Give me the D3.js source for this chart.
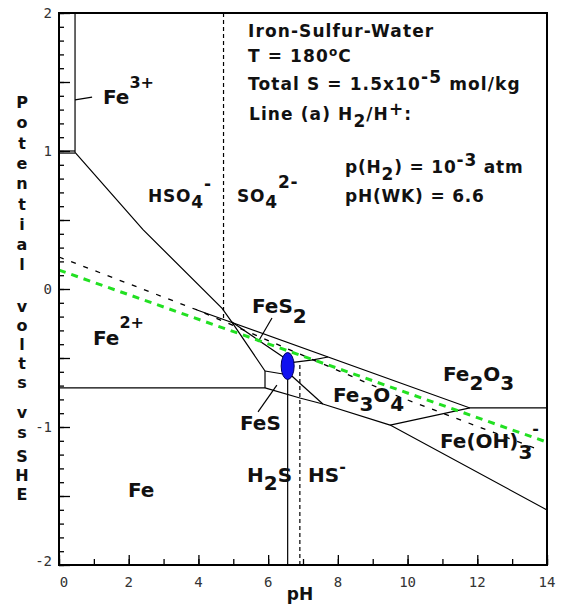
<!DOCTYPE html>
<html>
<head>
<meta charset="utf-8">
<script src="https://cdn.jsdelivr.net/npm/d3@7"></script>
<style>
  body { margin: 0; background: #fff; }
  svg { display: block; }
  .big { font-family: "DejaVu Sans", sans-serif; font-weight: bold; fill: #111; }
  .tick-lbl { font-family: "DejaVu Sans Mono", monospace; font-size: 14px; fill: #333; }
</style>
</head>
<body>
<svg id="chart" width="563" height="604"></svg>
<script>
// field boundaries, every point is [pH, E in volts]
var fe3Edge = [[0.46, 2.0], [0.46, 0.99]];
var fe3Floor = [[0, 1.0], [0.46, 1.0]];
var fe3Floor2 = [[0, 0.985], [0.46, 0.985]];
var fe2Top = [[0.46, 0.99], [2.41, 0.43], [4.68, -0.14], [4.96, -0.24], [5.91, -0.594]];
var fesLeft = [[5.91, -0.594], [5.91, -0.717]];
var fe2Floor = [[0, -0.717], [5.91, -0.717]];
var fe2o3Floor = [[3.96, -0.152], [11.79, -0.862], [14, -0.862]];
var pyriteBase = [[4.96, -0.24], [6.43, -0.493], [6.56, -0.52]];
var pyriteTip = [[6.6, -0.536], [7.29, -0.514], [7.72, -0.493]];
var fesTop = [[5.91, -0.594], [6.6, -0.623]];
var fesMagnetite = [[6.68, -0.63], [7.57, -0.833]];
var feFloor = [[5.91, -0.717], [6.91, -0.79], [7.57, -0.833], [9.5, -0.986], [14, -1.601]];
var magnetiteHydroxide = [[9.5, -0.986], [11.79, -0.862]];

// sulfur species and water lines
var sulfurDash = [[0, 0.232], [3.96, -0.152], [9.78, -0.783], [13.8, -1.167]];
var hso4So4 = [[4.72, 2], [4.72, -0.215]];
var h2sHs = [[6.91, -0.55], [6.91, -2]];
var h2Line = [[0, 0.137], [14, -1.11]];   // line (a) H2/H+
var wkLine = [[6.56, -0.56], [6.56, -2]];
var wkPoint = [6.56, -0.558];

// label leaders
var fe3Leader = [[0.46, 1.37], [0.95, 1.39]];
var fes2Leader = [[5.71, -0.384], [6.11, -0.21]];
var fesLeader = [[5.71, -0.891], [6.25, -0.696]];

var xTickLabels = [0, 2, 4, 6, 8, 10, 12, 14];
var yTickLabels = [2, 1, 0, -1, -2];
var yTitleWords = ["Potential", "volts", "vs", "SHE"];

const svg = d3.select('#chart');
const x = d3.scaleLinear().domain([0, 14]).range([59, 547]);
const y = d3.scaleLinear().domain([-2, 2]).range([565, 13]);
const line = d3.line().x(d => x(d[0])).y(d => y(d[1]));

const g = svg.append('g');

// solid boundaries
[fe3Edge, fe3Floor, fe3Floor2, fe2Top, fesLeft, fe2Floor, fe2o3Floor, pyriteBase, pyriteTip,
 fesTop, fesMagnetite, feFloor, magnetiteHydroxide, wkLine, fe3Leader, fes2Leader, fesLeader]
  .forEach(d => {
    g.append('path').attr('d', line(d)).attr('fill', 'none')
      .attr('stroke', '#000').attr('stroke-width', 1.2);
  });

// dashed lines
g.append('path').attr('d', line(sulfurDash)).attr('fill', 'none')
  .attr('stroke', '#000').attr('stroke-width', 1.3).attr('stroke-dasharray', '5,8');
[hso4So4, h2sHs].forEach(d => {
  g.append('path').attr('d', line(d)).attr('fill', 'none')
    .attr('stroke', '#000').attr('stroke-width', 1.2).attr('stroke-dasharray', '4,3');
});
g.append('path').attr('d', line(h2Line)).attr('fill', 'none')
  .attr('stroke', '#22e022').attr('stroke-width', 3).attr('stroke-dasharray', '7,6');

// working point
g.append('ellipse').attr('cx', x(wkPoint[0])).attr('cy', y(wkPoint[1]))
  .attr('rx', 6.5).attr('ry', 13.5)
  .attr('fill', '#1010f0').attr('stroke', '#000060').attr('stroke-width', 1);

// frame
svg.append('rect').attr('x', x(0)).attr('y', y(2))
  .attr('width', x(14) - x(0)).attr('height', y(-2) - y(2))
  .attr('fill', 'none').attr('stroke', '#000').attr('stroke-width', 2);

// ticks on left axis (inside)
function yTicks(vals, size) {
  svg.append('g').attr('transform', `translate(${x(0)},0)`)
    .call(d3.axisRight(y).tickValues(vals).tickSize(size).tickFormat(''))
    .call(a => a.select('.domain').remove())
    .call(a => a.selectAll('line').attr('stroke', '#000').attr('stroke-width', 1.3));
}
yTicks(d3.range(-20, 21).map(i => i / 10), 5);
yTicks(d3.range(-4, 5).map(i => i / 2), 11);

function xTicks(vals, size) {
  svg.append('g').attr('transform', `translate(0,${y(-2)})`)
    .call(d3.axisTop(x).tickValues(vals).tickSize(size).tickFormat(''))
    .call(a => a.select('.domain').remove())
    .call(a => a.selectAll('line').attr('stroke', '#000').attr('stroke-width', 1.3));
}
xTicks(d3.range(0, 15), 6);
xTicks(xTickLabels, 10);

// tick labels
svg.selectAll('.xlab').data(xTickLabels).join('text')
  .attr('class', 'tick-lbl')
  .attr('x', d => d === 0 ? x(d) + 5 : x(d))
  .attr('y', 587).attr('text-anchor', 'middle').text(d => d);
svg.selectAll('.ylab').data(yTickLabels).join('text')
  .attr('class', 'tick-lbl')
  .attr('x', 52).attr('y', d => d === -2 ? y(d) - 4 : y(d))
  .attr('dy', '0.35em').attr('text-anchor', 'end').text(d => d);

// axis titles
svg.append('text').attr('class', 'big').style('font-size', '17px')
  .attr('x', 300).attr('y', 600).attr('text-anchor', 'middle').text('pH');

// vertical title, one letter per row
var wordStart = [102, 306, 412, 456];
var wordPitch = [20.3, 19, 20, 19];
yTitleWords.forEach((w, wi) => {
  w.split('').forEach((ch, ci) => {
    svg.append('text').attr('class', 'big').style('font-size', '16px')
      .attr('x', 22).attr('y', wordStart[wi] + ci * wordPitch[wi] + 6)
      .attr('text-anchor', 'middle').text(ch);
  });
});

// rich text: parts are strings or {t, dy, fs}
function rich(xp, yp, parts, size, spacing) {
  const t = svg.append('text').attr('class', 'big')
    .attr('x', xp).attr('y', yp)
    .style('font-size', size + 'px')
    .style('letter-spacing', (spacing || 0) + 'px');
  let cur = 0;
  parts.forEach(p => {
    const s = typeof p === 'string' ? { t: p, dy: 0 } : p;
    const target = s.dy || 0;
    const ts = t.append('tspan').attr('dy', target - cur).text(s.t);
    if (s.fs) ts.style('font-size', s.fs + 'px');
    cur = target;
  });
  return t;
}

// info block
rich(248, 37, ['Iron-Sulfur-Water'], 17, 1.1);
rich(248, 62, ['T = 180', { t: 'o', dy: -6, fs: 12 }, 'C'], 17, 1.1);
rich(248, 90, ['Total S = 1.5x10', { t: '-5', dy: -7 }, ' mol/kg'], 17, 1.1);
rich(249, 120, ['Line (a) H', { t: '2', dy: 7 }, '/H', { t: '+', dy: -5 }, ':'], 17, 1.1);
rich(345, 173, ['p(H', { t: '2', dy: 7 }, ') = 10', { t: '-3', dy: -7 }, ' atm'], 17, 0.8);
rich(345, 202, ['pH(WK) = 6.6'], 17, 0.8);
rich(148, 202, ['HSO', { t: '4', dy: 6 }, { t: '-', dy: -12 }], 17, 0.8);
rich(237, 202, ['SO', { t: '4', dy: 6 }, { t: '2-', dy: -14 }], 17, 0.8);

// field labels
rich(103, 104, ['Fe', { t: '3+', dy: -16, fs: 16 }], 20);
rich(93, 345, ['Fe', { t: '2+', dy: -17, fs: 16 }], 20);
rich(252, 313, ['FeS', { t: '2', dy: 10 }], 20);
rich(443, 381, ['Fe', { t: '2', dy: 9 }, 'O', { t: '3', dy: 9 }], 20);
rich(333, 402, ['Fe', { t: '3', dy: 9 }, 'O', { t: '4', dy: 9 }], 20);
rich(440, 448, ['Fe(OH)', { t: '3', dy: 11 }, { t: '-', dy: -14, fs: 16 }], 20);
rich(240, 430, ['FeS'], 20);
rich(247, 482, ['H', { t: '2', dy: 8 }, 'S'], 20);
rich(308, 482, ['HS', { t: '-', dy: -10, fs: 16 }], 20);
rich(128, 497, ['Fe'], 20);
</script>
</body>
</html>
